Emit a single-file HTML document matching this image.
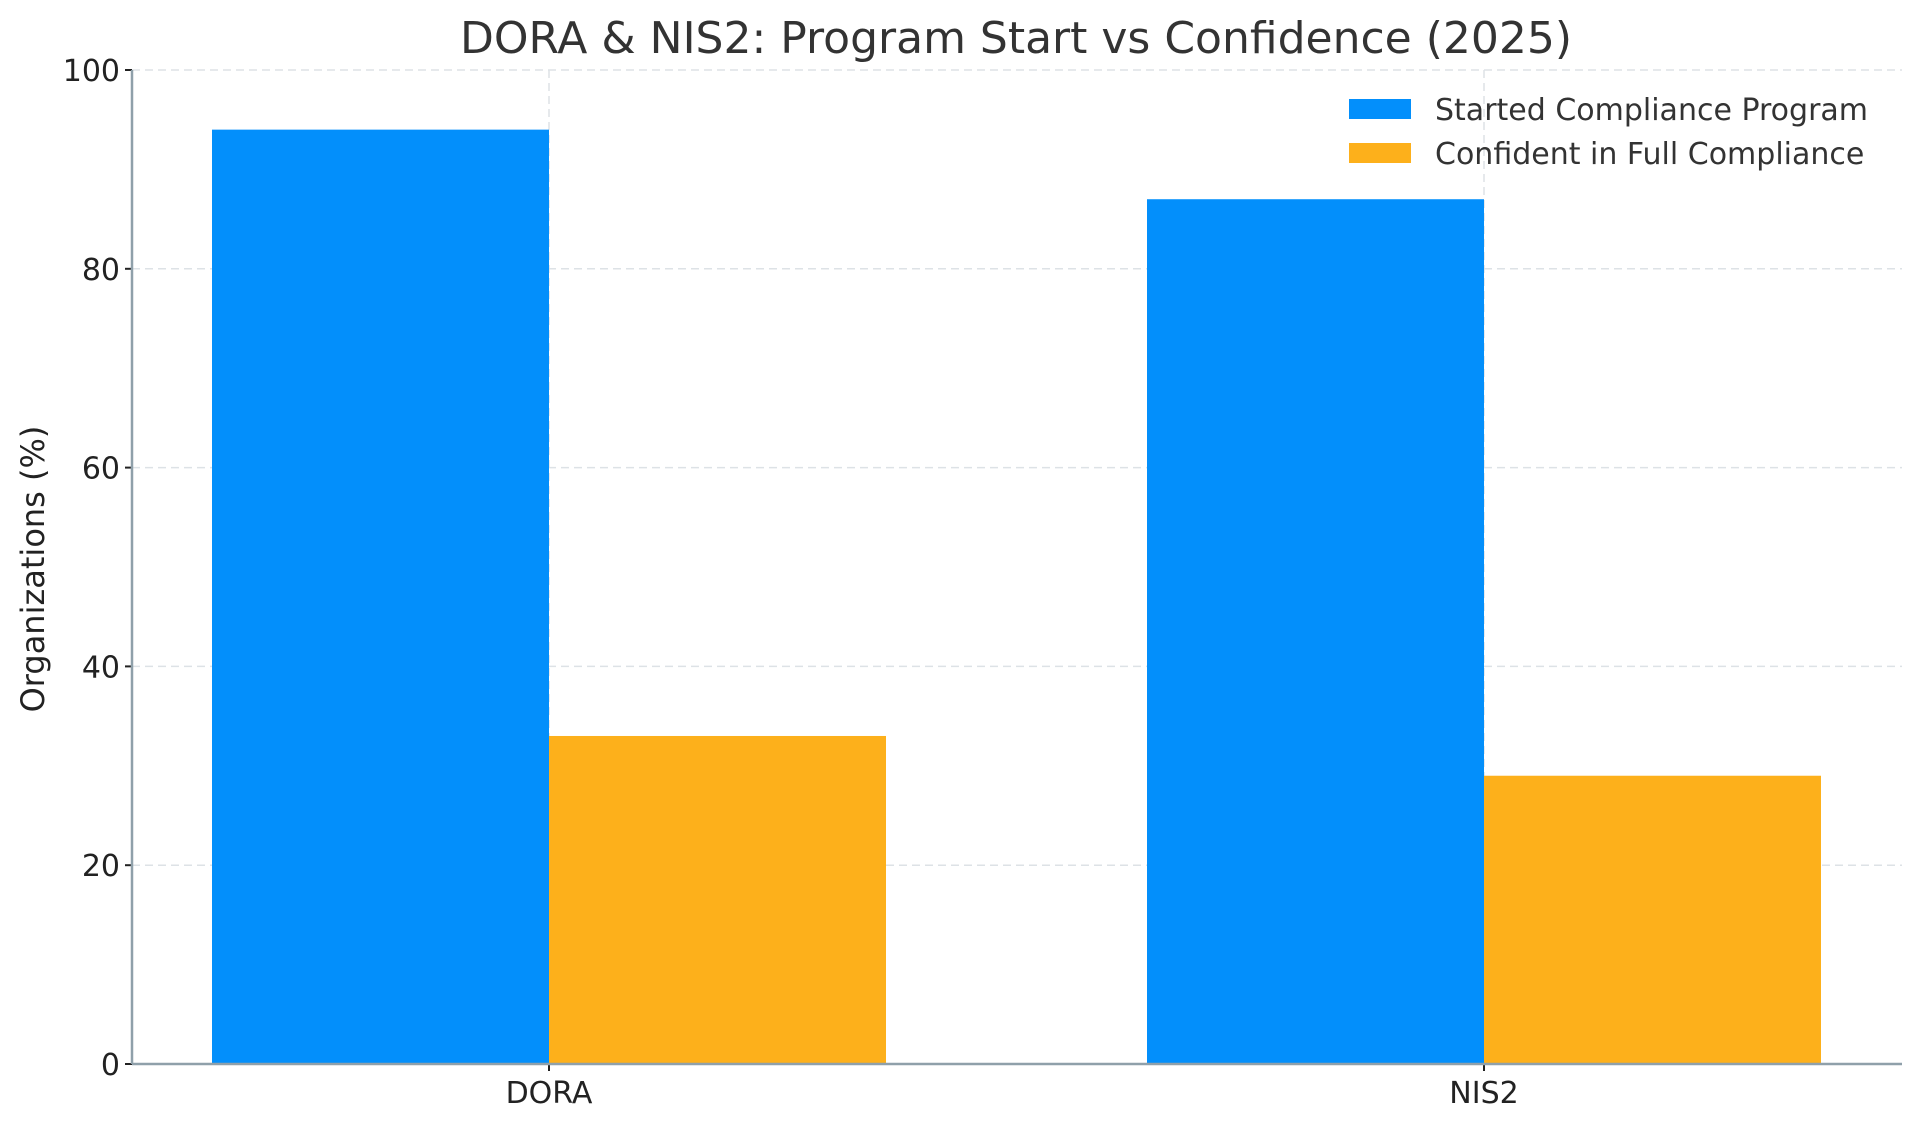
<!DOCTYPE html>
<html><head><meta charset="utf-8"><style>
body{margin:0;background:#fff}
svg{display:block;font-family:"DejaVu Sans","Liberation Sans",sans-serif}
</style></head><body>
<svg id="chart" width="1920" height="1123" viewBox="0 0 1920 1123">
<text x="1016" y="53" font-size="44" fill="#333" text-anchor="middle">DORA &amp; NIS2: Program Start vs Confidence (2025)</text>
<text transform="translate(44,569) rotate(-90)" font-size="32" fill="#222" text-anchor="middle">Organizations (%)</text>
<g id="grid"></g><g id="bars"></g><g id="axes"></g>
<g>
<rect x="1349" y="99" width="62" height="20" fill="#038ffb"/>
<text x="1435" y="120" font-size="30" fill="#333">Started Compliance Program</text>
<rect x="1349" y="143" width="62" height="20" fill="#fdb01b"/>
<text x="1435" y="164" font-size="30" fill="#333">Confident in Full Compliance</text>
</g>
</svg>
<script>
const categories=["DORA","NIS2"];
const started=[94,87];
const confident=[33,29];
const yTicks=[0,20,40,60,80,100];
const NS="http://www.w3.org/2000/svg";
const L=132,R=1902,Y0=1064,Y100=70;
const y=v=>Y0-(Y0-Y100)*v/100;
const centers=[549,1484],bw=337;
const x=i=>centers[0]+(centers[1]-centers[0])*i;
function mk(t,a,p){const e=document.createElementNS(NS,t);for(const k in a)e.setAttribute(k,a[k]);p.appendChild(e);return e;}
const grid=document.getElementById('grid'),bars=document.getElementById('bars'),axes=document.getElementById('axes');
yTicks.forEach(v=>{
 const g=mk('line',{x1:L,x2:R,y1:y(v),y2:y(v),stroke:'#dde2e6','stroke-width':1.5,'stroke-dasharray':'8,5'},grid);
 
 
 const t=mk('line',{x1:L-7,x2:L,y1:y(v),y2:y(v),stroke:'#222','stroke-width':2},axes);
 
 
 const l=mk('text',{x:L-12,y:y(v)+11,'font-size':30,fill:'#222','text-anchor':'end'},axes);
 l.textContent=v;
 
 
});
categories.forEach((c,i)=>{
 const vg=mk('line',{x1:x(i),x2:x(i),y1:Y100,y2:Y0,stroke:'#dde2e6','stroke-width':1.5,'stroke-dasharray':'8,5'},grid);
 
 
 const b1=mk('rect',{x:x(i)-bw,y:y(started[i]),width:bw,height:Y0-y(started[i]),fill:'#038ffb'},bars);
 
 
 const b2=mk('rect',{x:x(i),y:y(confident[i]),width:bw,height:Y0-y(confident[i]),fill:'#fdb01b'},bars);
 
 
 const t=mk('line',{x1:x(i),x2:x(i),y1:Y0,y2:Y0+7,stroke:'#222','stroke-width':2},axes);
 
 
 const l=mk('text',{x:x(i),y:Y0+39,'font-size':30,fill:'#222','text-anchor':'middle'},axes);
 l.textContent=c;
 
 
});
const ya=mk('line',{x1:L,x2:L,y1:Y100,y2:Y0,stroke:'#8fa0aa','stroke-width':2.5},axes);


const xa=mk('line',{x1:L,x2:R,y1:Y0,y2:Y0,stroke:'#8fa0aa','stroke-width':2.5},axes);


</script>
</body></html>
